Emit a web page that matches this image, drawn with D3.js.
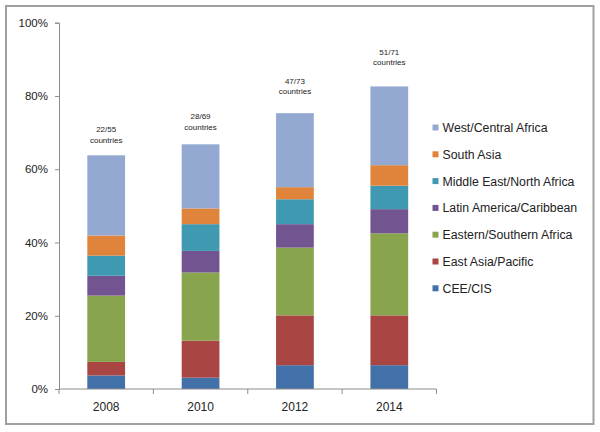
<!DOCTYPE html>
<html>
<head>
<meta charset="utf-8">
<script src="https://cdn.jsdelivr.net/npm/d3@7/dist/d3.min.js"></script>
<style>
html,body{margin:0;padding:0;background:#fff;}
svg{display:block;font-family:"Liberation Sans",Arial,sans-serif;}
</style>
</head>
<body>
<svg id="chart" width="600" height="432"></svg>
<script>
// ---- data ----
const years = ["2008", "2010", "2012", "2014"];
const regions = ["CEE/CIS", "East Asia/Pacific", "Eastern/Southern Africa", "Latin America/Caribbean", "Middle East/North Africa", "South Asia", "West/Central Africa"];
const ceeCis = [3.7, 3.1, 6.5, 6.5];
const eastAsiaPacific = [3.7, 10.1, 13.6, 13.6];
const easternSouthernAfrica = [18.1, 18.6, 18.5, 22.4];
const latinAmericaCaribbean = [5.4, 5.9, 6.4, 6.6];
const middleEastNorthAfrica = [5.5, 7.3, 6.8, 6.4];
const southAsia = [5.5, 4.3, 3.3, 5.6];
const westCentralAfrica = [21.9, 17.5, 20.2, 21.5];
const annotations = ["22/55", "28/69", "47/73", "51/71"];
const annotationAt = [68, 71.6, 81.2, 89.2]; // value (%) where the "countries" line sits
const yTicks = [0, 20, 40, 60, 80, 100];
const colors = ["#4270a9", "#a94543", "#88a44c", "#725590", "#3f9ab1", "#e0843c", "#93a9d2"];

const seriesValues = [ceeCis, eastAsiaPacific, easternSouthernAfrica, latinAmericaCaribbean, middleEastNorthAfrica, southAsia, westCentralAfrica];
const table = years.map((y, i) => {
  const row = {year: y};
  regions.forEach((r, k) => row[r] = seriesValues[k][i]);
  return row;
});

const svg = d3.select("#chart");

// frame
svg.append("rect").attr("x", 6).attr("y", 6).attr("width", 587.5).attr("height", 418)
  .attr("fill", "#fff").attr("stroke", "#a0a0a0").attr("stroke-width", 2);

const x = d3.scaleBand().domain(years).range([59, 436.5]).paddingInner(0.6).paddingOuter(0.3);
const y = d3.scaleLinear().domain([0, 100]).range([389, 22.7]);

const stack = d3.stack().keys(regions)(table);

const axisColor = "#8c8c8c";

// bars
svg.append("g").selectAll("g").data(stack).join("g")
  .attr("fill", (d, i) => colors[i])
  .selectAll("rect").data(d => d).join("rect")
  .attr("x", d => x(d.data.year))
  .attr("width", x.bandwidth())
  .attr("y", d => y(d[1]))
  .attr("height", d => y(d[0]) - y(d[1]));

// y axis
const yAxis = svg.append("g").attr("transform", "translate(59,0)")
  .call(d3.axisLeft(y).tickValues(yTicks).tickFormat(d => d + "%").tickSize(4).tickPadding(7));
yAxis.select(".domain").attr("stroke", axisColor);
yAxis.selectAll(".tick line").attr("stroke", axisColor);
yAxis.selectAll("text").attr("fill", "#222").style("font-size", "11.5px");

// x axis
const xAxis = svg.append("g").attr("transform", "translate(0,389)")
  .call(d3.axisBottom(x).tickSize(0).tickPadding(13));
xAxis.select(".domain").attr("stroke", axisColor).attr("d", "M59,0H436.5");
xAxis.selectAll("text").attr("fill", "#222").style("font-size", "12px");
// category boundary ticks
const step = x.step();
const bounds = d3.range(years.length + 1).map(i => 59 + i * (436.5 - 59) / years.length);
xAxis.selectAll(".bt").data(bounds).join("line").attr("class", "bt")
  .attr("x1", d => d).attr("x2", d => d).attr("y1", 0).attr("y2", 5)
  .attr("stroke", axisColor);

// annotations
const ann = svg.append("g").selectAll("text").data(years).join("text")
  .attr("x", d => x(d) + x.bandwidth() / 2)
  .attr("y", (d, i) => y(annotationAt[i]))
  .attr("text-anchor", "middle")
  .style("font-size", "8px").attr("fill", "#222");
ann.append("tspan").attr("x", d => x(d) + x.bandwidth() / 2).attr("dy", "-0.95em").text((d, i) => annotations[i]);
ann.append("tspan").attr("x", d => x(d) + x.bandwidth() / 2).attr("dy", "1.3em").text("countries");

// legend (reverse order)
const legendOrder = regions.map((r, i) => i).reverse();
const lg = svg.append("g").selectAll("g").data(legendOrder).join("g")
  .attr("transform", (d, j) => `translate(432.5,${127.5 + j * 26.8})`);
lg.append("rect").attr("x", 0).attr("y", -3).attr("width", 6).attr("height", 6).attr("fill", d => colors[d]);
lg.append("text").attr("x", 10).attr("y", 0).attr("dy", "0.36em")
  .style("font-size", "12.3px").attr("fill", "#222").text(d => regions[d]);
</script>
</body>
</html>
